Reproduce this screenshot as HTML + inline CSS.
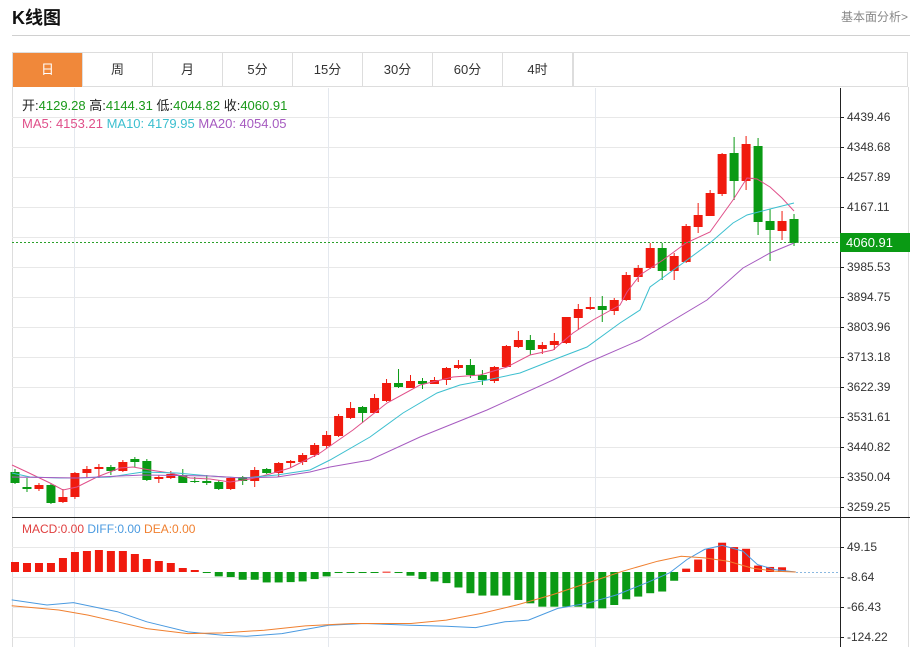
<!DOCTYPE html>
<html><head><meta charset="utf-8">
<style>
body{margin:0;width:916px;height:647px;background:#fff;overflow:hidden;font-family:"Liberation Sans","Noto Sans CJK SC",sans-serif;position:relative}
.h{position:absolute;left:12px;top:4px;font-size:18px;font-weight:bold;color:#111}
.r{position:absolute;right:8px;top:8px;font-size:12px;color:#888}
.hl{position:absolute;left:12px;top:35px;width:898px;height:1px;background:#d0d0d0}
.tabs{position:absolute;left:12px;top:52px;width:896px;height:35px;border:1px solid #ddd;border-bottom:1px solid #ddd;box-sizing:border-box}
.tab{position:absolute;top:0;height:34px;width:70px;border-right:1px solid #ddd;box-sizing:border-box;text-align:center;line-height:34px;font-size:13px;color:#333}
.on{background:#f0883a;color:#fff}
svg{position:absolute;left:0;top:0}
</style></head><body>
<div class="h">K线图</div><div class="r">基本面分析&gt;</div><div class="hl"></div>
<div class="tabs">
<div class="tab on" style="left:0">日</div><div class="tab" style="left:70px">周</div><div class="tab" style="left:140px">月</div><div class="tab" style="left:210px">5分</div><div class="tab" style="left:280px">15分</div><div class="tab" style="left:350px">30分</div><div class="tab" style="left:420px">60分</div><div class="tab" style="left:490px">4时</div><div class="tab" style="left:560px;width:1px"></div>
</div>
<svg id="s" width="916" height="647" xmlns="http://www.w3.org/2000/svg" font-family="Liberation Sans, Noto Sans CJK SC, sans-serif"></svg>
<script>
var S=document.getElementById('s'),h='';
function L(x1,y1,x2,y2,c,w,d){h+='<line x1="'+x1+'" y1="'+y1+'" x2="'+x2+'" y2="'+y2+'" stroke="'+c+'" stroke-width="'+(w||1)+'"'+(d?' stroke-dasharray="'+d+'"':'')+'/>';}
function T(x,y,t,c,s){h+='<text x="'+x+'" y="'+y+'" fill="'+c+'" font-size="'+(s||12)+'">'+t+'</text>';}
// frame
L(12.5,87,12.5,647,'#ddd');L(908.5,87,908.5,647,'#ddd');
// grids
var pl=['4439.46','4348.68','4257.89','4167.11','4076.32','3985.53','3894.75','3803.96','3713.18','3622.39','3531.61','3440.82','3350.04','3259.25'];
for(var i=0;i<14;i++){var y=117+i*30;L(12,y+.5,840,y+.5,'#e8e8e8');}
[547,577,607,637].forEach(function(y){L(12,y+.5,840,y+.5,'#e8e8e8');});
[74,328,595].forEach(function(x){L(x+.5,88,x+.5,647,'#e4e8ee');});
L(840.5,88,840.5,647,'#222');
L(12,517.5,910,517.5,'#222');
for(var i=0;i<14;i++){var y=117+i*30;L(840,y+.5,844,y+.5,'#222');if(i!=4)T(847,y+4,pl[i],'#333',12);}
var ml=['49.15','-8.64','-66.43','-124.22'];
for(var i=0;i<4;i++){var y=547+i*30;L(840,y+.5,844,y+.5,'#222');T(847,y+4,ml[i],'#333',12);}
// candles [top,bot,hi,lo,color]
var C=[[472,483,469,484,'g'],[487,489,478,492,'g'],[485,489,483,491,'r'],[485,503,483,504,'g'],[497,502,489,503,'r'],[473,497,472,499,'r'],[469,473,466,477,'r'],[467,469,464,478,'r'],[467,471,465,475,'g'],[462,471,460,472,'r'],[459,462,457,467,'g'],[461,480,459,481,'g'],[477,479,475,483,'r'],[474,478,471,479,'r'],[475,483,469,483,'g'],[481,482,477,483,'g'],[481,483,475,485,'g'],[482,489,480,490,'g'],[478,489,477,490,'r'],[477,481,476,485,'g'],[470,481,467,487,'r'],[469,473,468,474,'g'],[463,473,462,477,'r'],[461,463,460,468,'r'],[455,462,453,465,'r'],[445,455,443,457,'r'],[435,446,431,448,'r'],[416,436,414,437,'r'],[408,418,402,419,'r'],[407,413,406,423,'g'],[398,413,394,413,'r'],[383,401,379,402,'r'],[383,387,369,388,'g'],[381,388,375,388,'r'],[381,384,378,389,'g'],[380,384,377,384,'r'],[368,380,367,385,'r'],[365,368,360,369,'r'],[365,375,359,378,'g'],[375,380,370,385,'g'],[367,381,366,383,'r'],[346,367,345,367,'r'],[340,347,331,348,'r'],[340,350,335,355,'g'],[345,349,342,354,'r'],[341,345,333,350,'r'],[317,343,317,344,'r'],[309,318,304,330,'r'],[307,309,297,310,'r'],[306,310,296,322,'g'],[300,311,298,315,'r'],[275,300,272,301,'r'],[268,277,265,282,'r'],[248,268,243,269,'r'],[248,271,243,280,'g'],[256,271,253,280,'r'],[226,262,224,263,'r'],[215,227,203,233,'r'],[193,216,190,216,'r'],[154,194,153,196,'r'],[153,181,137,200,'g'],[144,181,136,190,'r'],[146,222,138,235,'g'],[221,230,209,261,'g'],[221,231,211,240,'r'],[219,243,214,246,'g']];
C.forEach(function(c,i){var x=15+11.985*i,col=c[4]=='r'?'#f01a0e':'#0a9a14';L(x,c[2],x,c[3],col,1);h+='<rect x="'+(x-4.5)+'" y="'+c[0]+'" width="9" height="'+Math.max(1,c[1]-c[0])+'" fill="'+col+'"/>';});
function P(pts,c){h+='<polyline fill="none" stroke="'+c+'" stroke-width="1" points="'+pts+'"/>';}
P('12,465 27,472 50,483 63,490 77,487 97,477 120,468 133,467 150,470 170,473 190,478 210,479 230,482 250,479 270,474 290,468 310,458 320,453 330,446 353,430 387,403 420,385 453,377 480,375 507,367 530,355 553,350 573,333 593,320 620,305 627,292 640,275 663,260 686,243 710,232 733,200 747,178 757,179 770,187 782,198 794,211','#e0508a');
P('12,473 30,477 60,478 77,478 110,477 143,472 177,473 210,476 243,478 277,475 310,470 330,460 370,437 403,413 437,393 460,385 487,380 520,373 553,360 587,347 620,323 640,310 650,287 683,263 710,243 733,223 747,215 770,209 794,203','#3cbfcf');
P('12,477 77,478 143,475 210,476 243,478 277,477 310,472 330,467 370,460 420,437 487,410 553,380 587,363 640,340 707,300 743,268 770,253 794,243','#a65bc0');
// price line & label
L(12,242.5,840,242.5,'#2aa02a',1,'2,2');
h+='<rect x="840" y="233" width="70" height="19" fill="#0a9a14"/>';T(846,247,'4060.91','#fff',13);
// legend
h+='<text x="22" y="110" font-size="13"><tspan fill="#222">开:</tspan><tspan fill="#1a9a1a">4129.28 </tspan><tspan fill="#222"> 高:</tspan><tspan fill="#1a9a1a">4144.31 </tspan><tspan fill="#222"> 低:</tspan><tspan fill="#1a9a1a">4044.82 </tspan><tspan fill="#222"> 收:</tspan><tspan fill="#1a9a1a">4060.91</tspan></text>';
h+='<text x="22" y="128" font-size="13"><tspan fill="#e0508a">MA5: 4153.21 </tspan><tspan fill="#3cbfcf"> MA10: 4179.95 </tspan><tspan fill="#a65bc0"> MA20: 4054.05</tspan></text>';
h+='<text x="22" y="533" font-size="12"><tspan fill="#e04040">MACD:0.00 </tspan><tspan fill="#4a9ae0"> DIFF:0.00 </tspan><tspan fill="#f08030"> DEA:0.00</tspan></text>';
// MACD bars
var Z=572;
var top1=[562,563,563,563,558,552,551,550,551,551,554,559,561,563,568,570];
top1.forEach(function(t,i){var x=15+11.985*i;h+='<rect x="'+(x-4)+'" y="'+t+'" width="8" height="'+(Z-t)+'" fill="#f01a0e"/>';});
var zb=[400,410,412,420,420,428,428,427,425,418,410,400,400,400,399,396,400,408,418,425,430,443,460,467,467,467,480,490,500,500,500,500,505,505,495,478,470,460,455,423,387,360,328,310,323,328,378,382,383];
zb.forEach(function(zy,k){var i=16+k,x=15+11.985*i,y=Z+(zy-397)/2.97;var t=Math.min(y,Z),hh=Math.max(1,Math.abs(y-Z));h+='<rect x="'+(x-4)+'" y="'+t+'" width="8" height="'+hh+'" fill="'+(y<Z?'#f01a0e':'#0a9a14')+'"/>';});
L(796,572.5,840,572.5,'#8ab8e0',1,'2,2');
function Q(a,c){var s=[];for(var i=0;i<a.length;i+=2)s.push((a[i]/1.703).toFixed(1)+','+(Z+(a[i+1]-397)/2.97).toFixed(1));P(s.join(' '),c);}
Q([20,480,80,495,125,488,200,515,250,545,320,575,380,585,420,588,480,580,560,555,620,550,700,555,760,558,810,562,860,545,900,540,950,505,1000,490,1050,465,1100,430,1140,400,1170,360,1200,330,1230,318,1265,335,1290,375,1320,390,1355,397],'#4a9ae0');
Q([20,497,100,510,150,525,200,545,250,565,320,580,380,578,450,570,520,557,600,550,700,550,760,540,820,520,880,495,940,465,1000,430,1060,395,1120,365,1160,350,1200,355,1240,365,1280,385,1320,395,1355,397],'#f08030');
S.innerHTML=h;
</script>
</body></html>
